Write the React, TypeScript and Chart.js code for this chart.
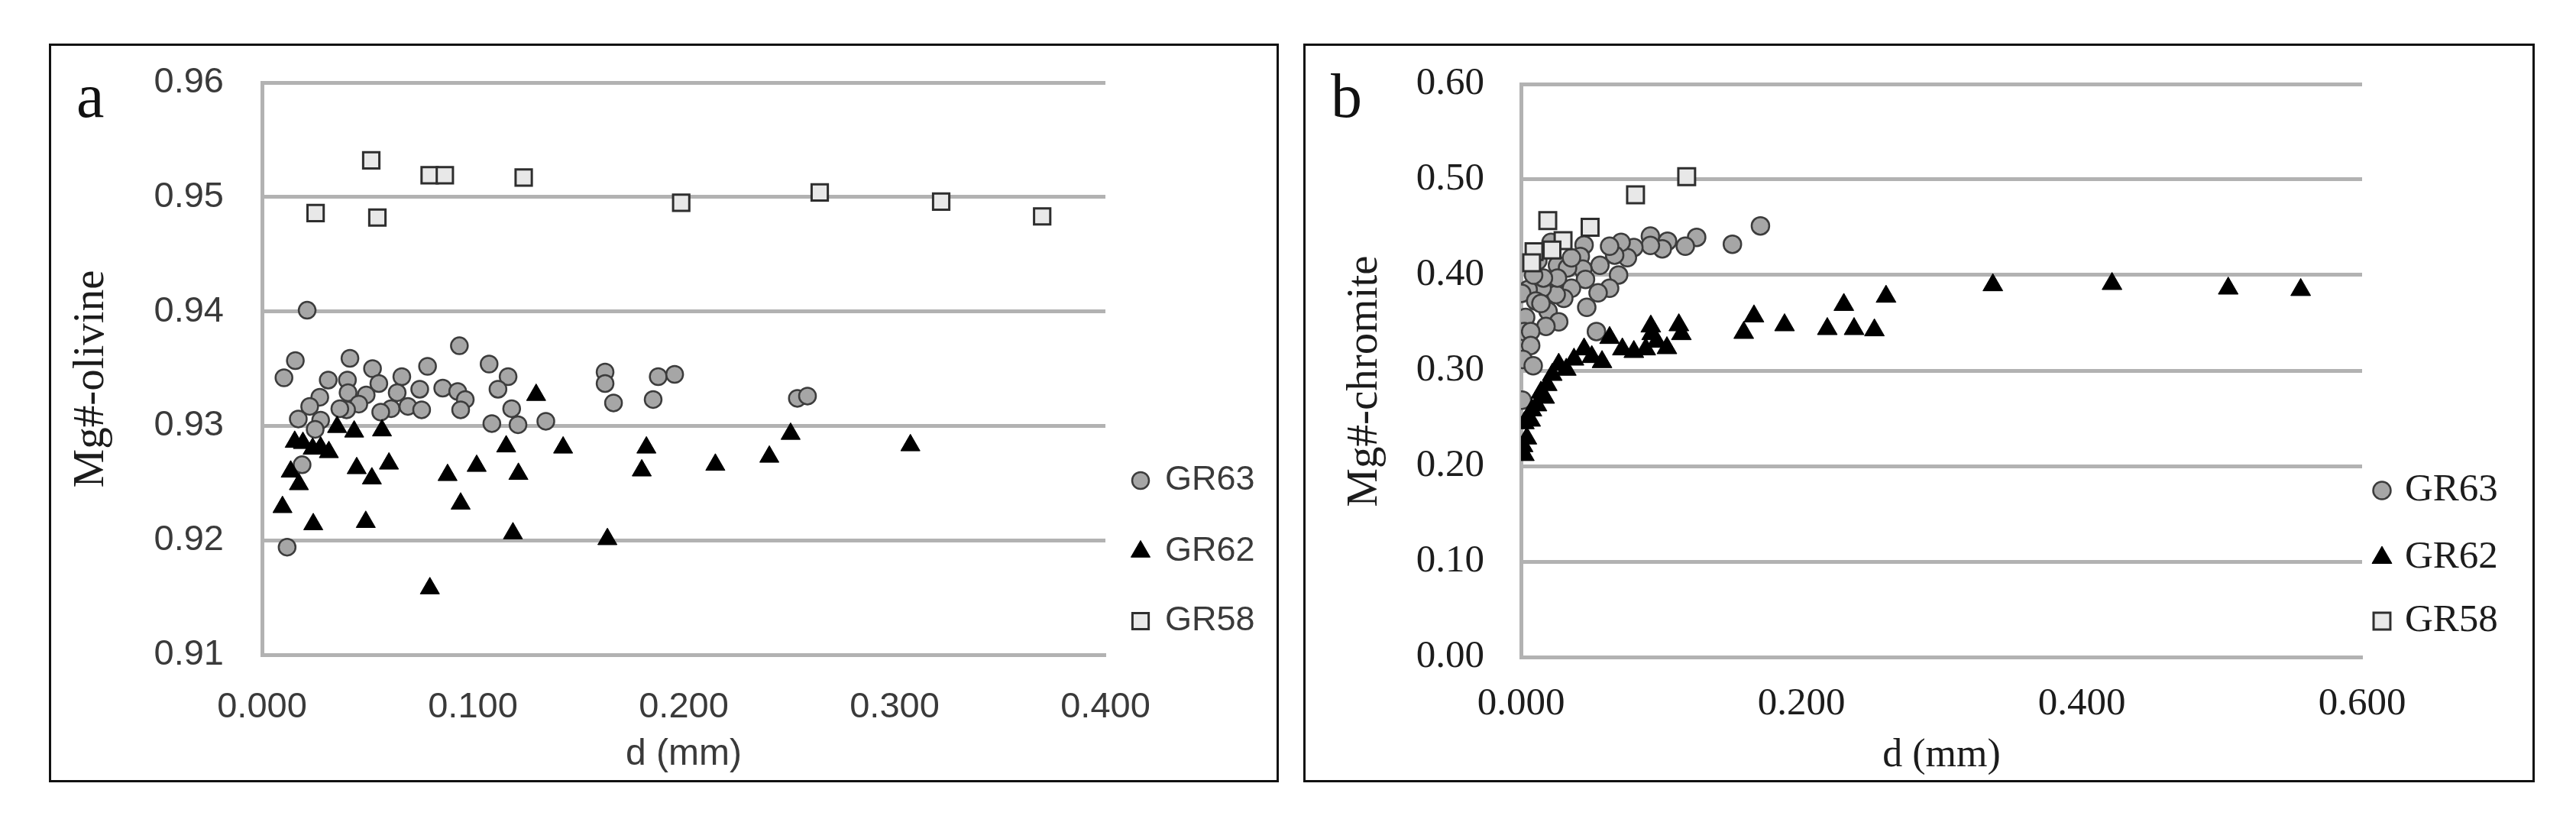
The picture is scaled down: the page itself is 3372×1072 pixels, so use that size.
import React, { useEffect, useRef } from "react";
import { Chart, registerables } from "chart.js";
import { drawPoint } from "chart.js/helpers";

Chart.register(...registerables);

// ---------------- data (d in mm, Mg#) ----------------
const SERIES_NAMES = ["GR63", "GR62", "GR58"];

const OLIVINE_GR63: [number, number][] = [
  [0.0214, 0.9401], [0.0936, 0.937], [0.0158, 0.9357], [0.0417, 0.9359], [0.0104, 0.9342],
  [0.0314, 0.934], [0.0524, 0.935], [0.0785, 0.9352], [0.1077, 0.9354], [0.1167, 0.9343],
  [0.0405, 0.934], [0.0554, 0.9337], [0.0663, 0.9343], [0.0748, 0.9332], [0.0857, 0.9333],
  [0.0928, 0.933], [0.0964, 0.9323], [0.1119, 0.9332], [0.0274, 0.9325], [0.0226, 0.9317],
  [0.0494, 0.9327], [0.0641, 0.9329], [0.0408, 0.9329], [0.0459, 0.9319], [0.0401, 0.9314],
  [0.0369, 0.9315], [0.0612, 0.9315], [0.0692, 0.9317], [0.0757, 0.9314], [0.0563, 0.9312],
  [0.0942, 0.9314], [0.1184, 0.9315], [0.0172, 0.9306], [0.0278, 0.9305], [0.0252, 0.9297],
  [0.109, 0.9302], [0.1214, 0.9301], [0.1346, 0.9304], [0.019, 0.9266], [0.0119, 0.9194],
  [0.1627, 0.9347], [0.1627, 0.9337], [0.1667, 0.932], [0.1879, 0.9343], [0.1957, 0.9345],
  [0.1855, 0.9323], [0.2539, 0.9324], [0.2587, 0.9326],
];

const OLIVINE_GR62: [number, number][] = [
  [0.0097, 0.9229], [0.0243, 0.9214], [0.0492, 0.9216], [0.0796, 0.9158], [0.119, 0.9206],
  [0.13, 0.9327], [0.0155, 0.9286], [0.0194, 0.9285], [0.024, 0.928], [0.0278, 0.9281],
  [0.0317, 0.9277], [0.0356, 0.9299], [0.0437, 0.9295], [0.0569, 0.9296], [0.1158, 0.9282],
  [0.0136, 0.926], [0.0175, 0.9249], [0.0449, 0.9263], [0.0521, 0.9254], [0.0602, 0.9267],
  [0.088, 0.9257], [0.1018, 0.9265], [0.1216, 0.9258], [0.0942, 0.9232], [0.1428, 0.9281],
  [0.1823, 0.9281], [0.1801, 0.9261], [0.215, 0.9266], [0.2406, 0.9273], [0.2507, 0.9293],
  [0.3075, 0.9283], [0.1638, 0.9201],
];

const OLIVINE_GR58: [number, number][] = [
  [0.0254, 0.9486], [0.0518, 0.9532], [0.0547, 0.9482], [0.0795, 0.9519], [0.0867, 0.9519],
  [0.1241, 0.9517], [0.1988, 0.9495], [0.2645, 0.9504], [0.3221, 0.9496], [0.37, 0.9483],
];

const CHROMITE_GR63: [number, number][] = [
  [0.1708, 0.4515], [0.1508, 0.4323], [0.1253, 0.4395], [0.1172, 0.4302], [0.1045, 0.4355],
  [0.1008, 0.4275], [0.0923, 0.4408], [0.0923, 0.431], [0.0805, 0.4289], [0.0759, 0.4182],
  [0.0714, 0.4342], [0.0668, 0.4209], [0.0632, 0.4302], [0.0696, 0.4001], [0.0632, 0.3862],
  [0.055, 0.3814], [0.0563, 0.4102], [0.045, 0.4315], [0.0423, 0.4195], [0.0441, 0.4062],
  [0.046, 0.3955], [0.0469, 0.3662], [0.0538, 0.3409], [0.036, 0.3862], [0.0305, 0.3756],
  [0.0251, 0.3796], [0.0151, 0.3862], [0.0051, 0.3849], [0.0005, 0.3809], [0.0105, 0.3729],
  [0.0193, 0.3622], [0.0269, 0.3511], [0.0178, 0.3463], [0.0033, 0.3556], [0.0024, 0.3409],
  [0.0069, 0.3409], [0.0069, 0.3263], [0.0015, 0.3116], [0.0087, 0.305], [0.0009, 0.269],
  [0.026, 0.4102], [0.0214, 0.4342], [0.0332, 0.4075], [0.026, 0.3969], [0.016, 0.3969],
  [0.0142, 0.3702], [0.036, 0.418], [0.009, 0.4], [0.012, 0.415],
];

const CHROMITE_GR62: [number, number][] = [
  [0.0015, 0.221], [0.0024, 0.2117], [0.0042, 0.229], [0.0024, 0.245], [0.0069, 0.2477],
  [0.0078, 0.2584], [0.0114, 0.2637], [0.0142, 0.277], [0.0169, 0.2717], [0.0187, 0.285],
  [0.0223, 0.2956], [0.0269, 0.3063], [0.0323, 0.301], [0.0378, 0.3116], [0.045, 0.3223],
  [0.0505, 0.3143], [0.0578, 0.309], [0.0632, 0.3343], [0.0723, 0.3223], [0.0805, 0.3196],
  [0.089, 0.3223], [0.0968, 0.3303], [0.1041, 0.3236], [0.0932, 0.3383], [0.0926, 0.3463],
  [0.1126, 0.3476], [0.1144, 0.3383], [0.1589, 0.3396], [0.1662, 0.3569], [0.188, 0.3476],
  [0.2185, 0.3436], [0.2303, 0.3689], [0.2376, 0.3436], [0.2521, 0.3423], [0.2604, 0.3775],
  [0.3366, 0.3895], [0.4216, 0.3908], [0.5045, 0.386], [0.5562, 0.3845],
];

const CHROMITE_GR58: [number, number][] = [
  [0.0191, 0.457], [0.0493, 0.45], [0.0817, 0.484], [0.1182, 0.503], [0.03, 0.436],
  [0.0221, 0.4262], [0.0093, 0.4245], [0.0076, 0.4128],
];

const OLIVINE_X_TICKS = [0, 0.1, 0.2, 0.3, 0.4];
const OLIVINE_X_LABELS = ["0.000", "0.100", "0.200", "0.300", "0.400"];
const OLIVINE_Y_TICKS = [0.91, 0.92, 0.93, 0.94, 0.95, 0.96];
const OLIVINE_Y_LABELS = ["0.91", "0.92", "0.93", "0.94", "0.95", "0.96"];

const CHROMITE_X_TICKS = [0, 0.2, 0.4, 0.6];
const CHROMITE_X_LABELS = ["0.000", "0.200", "0.400", "0.600"];
const CHROMITE_Y_TICKS = [0, 0.1, 0.2, 0.3, 0.4, 0.5, 0.6];
const CHROMITE_Y_LABELS = ["0.00", "0.10", "0.20", "0.30", "0.40", "0.50", "0.60"];

// ---------------- styling ----------------
const GRID = "#b2b2b2";
const SANS = '"Liberation Sans", Arial, sans-serif';
const SERIF = '"Liberation Serif", "Times New Roman", serif';

type Panel = {
  letter: string;
  yTitle: string;
  xTitle: string;
  series: [number, number][][];
  xTicks: number[];
  xLabels: string[];
  yTicks: number[];
  yLabels: string[];
  xMax: number;
  yMin: number;
  yMax: number;
  left: number;
  width: number;
  padding: { left: number; top: number; right: number; bottom: number };
  yAxisWidth: number;
  xAxisHeight: number;
  yTickPad: number;
  xTickPad: number;
  tickFont: string;
  tickSize: number;
  xTitleFont: string;
  xTitleSize: number;
  textColor: string;
  legendFont: string;
  legendSize: number;
  legendMarkerX: number;
  legendTextX: number;
  legendRows: number[];
  letterX: number;
  letterY: number;
  yTitleX: number;
  yTitleY: number;
  radii: number[];
};

const MARKERS = [
  { pointStyle: "circle", bg: "#a6a6a6", border: "#3c3c3c", bw: 2.5 },
  { pointStyle: "triangle", bg: "#000000", border: "#000000", bw: 1 },
  { pointStyle: "rect", bg: "#e8e8e8", border: "#2e2e2e", bw: 3 },
];

const PANEL_A: Panel = {
  letter: "a",
  yTitle: "Mg#-olivine",
  xTitle: "d (mm)",
  series: [OLIVINE_GR63, OLIVINE_GR62, OLIVINE_GR58],
  xTicks: OLIVINE_X_TICKS,
  xLabels: OLIVINE_X_LABELS,
  yTicks: OLIVINE_Y_TICKS,
  yLabels: OLIVINE_Y_LABELS,
  xMax: 0.4,
  yMin: 0.91,
  yMax: 0.96,
  left: 0,
  width: 1690,
  padding: { left: 86, top: 108, right: 243, bottom: 55 },
  yAxisWidth: 257,
  xAxisHeight: 160,
  yTickPad: 50,
  xTickPad: 41,
  tickFont: SANS,
  tickSize: 47,
  xTitleFont: SANS,
  xTitleSize: 48,
  textColor: "#3a3a3a",
  legendFont: SANS,
  legendSize: 45,
  legendMarkerX: 1493,
  legendTextX: 1525,
  legendRows: [629, 722, 813],
  letterX: 100,
  letterY: 153,
  yTitleX: 120,
  yTitleY: 496,
  radii: [11, 14.5, 15],
};

const PANEL_B: Panel = {
  letter: "b",
  yTitle: "Mg#-chromite",
  xTitle: "d (mm)",
  series: [CHROMITE_GR63, CHROMITE_GR62, CHROMITE_GR58],
  xTicks: CHROMITE_X_TICKS,
  xLabels: CHROMITE_X_LABELS,
  yTicks: CHROMITE_Y_TICKS,
  yLabels: CHROMITE_Y_LABELS,
  xMax: 0.6,
  yMin: 0,
  yMax: 0.6,
  left: 1690,
  width: 1682,
  padding: { left: 63, top: 110, right: 280, bottom: 51 },
  yAxisWidth: 238,
  xAxisHeight: 161,
  yTickPad: 48,
  xTickPad: 31,
  tickFont: SERIF,
  tickSize: 51,
  xTitleFont: SERIF,
  xTitleSize: 52,
  textColor: "#1c1c1c",
  legendFont: SERIF,
  legendSize: 51,
  legendMarkerX: 1428,
  legendTextX: 1458,
  legendRows: [642, 730, 813],
  letterX: 52,
  letterY: 153,
  yTitleX: 97,
  yTitleY: 499,
  radii: [11.5, 15, 15.5],
};

function ScatterPanel({ p }: { p: Panel }) {
  const ref = useRef<HTMLCanvasElement | null>(null);

  useEffect(() => {
    if (!ref.current) return;

    const overlay = {
      id: "panelOverlay",
      afterDraw(chart: any) {
        const ctx = chart.ctx as CanvasRenderingContext2D;
        ctx.save();
        // panel letter
        ctx.fillStyle = "#111";
        ctx.font = `82px ${SERIF}`;
        ctx.textAlign = "left";
        ctx.textBaseline = "alphabetic";
        ctx.fillText(p.letter, p.letterX, p.letterY);

        // y-axis title (rotated)
        ctx.save();
        ctx.translate(p.yTitleX, p.yTitleY);
        ctx.rotate(-Math.PI / 2);
        ctx.font = `57px ${SERIF}`;
        ctx.fillStyle = "#1c1c1c";
        ctx.textAlign = "center";
        ctx.textBaseline = "middle";
        ctx.fillText(p.yTitle, 0, 0);
        ctx.restore();

        // legend
        chart.data.datasets.forEach((ds: any, i: number) => {
          const y = p.legendRows[i];
          ctx.fillStyle = ds.backgroundColor;
          ctx.strokeStyle = ds.borderColor;
          ctx.lineWidth = ds.pointBorderWidth;
          drawPoint(
            ctx,
            { pointStyle: ds.pointStyle, radius: ds.pointRadius, borderWidth: ds.pointBorderWidth, rotation: 0 } as any,
            p.legendMarkerX,
            y
          );
          ctx.fillStyle = p.textColor;
          ctx.font = `${p.legendSize}px ${p.legendFont}`;
          ctx.textBaseline = "middle";
          ctx.textAlign = "left";
          ctx.fillText(ds.label, p.legendTextX, y);
        });
        ctx.restore();
      },
    };

    const datasets = p.series.map((s, i) => ({
      label: SERIES_NAMES[i],
      data: s.map(([x, y]) => ({ x, y })),
      pointStyle: MARKERS[i].pointStyle,
      pointRadius: p.radii[i],
      backgroundColor: MARKERS[i].bg,
      borderColor: MARKERS[i].border,
      pointBorderWidth: MARKERS[i].bw,
      borderWidth: MARKERS[i].bw,
      showLine: false,
      order: 2 - i,
    }));

    const chart = new Chart(ref.current, {
      type: "scatter",
      data: { datasets: datasets as any },
      options: {
        responsive: false,
        animation: false,
        devicePixelRatio: 1,
        events: [],
        layout: { padding: p.padding },
        plugins: {
          legend: { display: false },
          tooltip: { enabled: false },
        },
        scales: {
          x: {
            type: "linear",
            min: 0,
            max: p.xMax,
            afterBuildTicks: (s: any) => {
              s.ticks = p.xTicks.map((v) => ({ value: v }));
            },
            afterFit: (s: any) => {
              s.height = p.xAxisHeight;
            },
            ticks: {
              autoSkip: false,
              maxRotation: 0,
              padding: p.xTickPad,
              color: p.textColor,
              font: { family: p.tickFont, size: p.tickSize },
              callback: (_v: any, i: number) => p.xLabels[i],
            },
            grid: { display: true, drawOnChartArea: false, drawTicks: false },
            border: { display: true, color: GRID, width: 5 },
            title: {
              display: true,
              text: p.xTitle,
              color: p.textColor,
              padding: 0,
              font: { family: p.xTitleFont, size: p.xTitleSize },
            },
          },
          y: {
            type: "linear",
            min: p.yMin,
            max: p.yMax,
            afterBuildTicks: (s: any) => {
              s.ticks = p.yTicks.map((v) => ({ value: v }));
            },
            afterFit: (s: any) => {
              s.width = p.yAxisWidth;
            },
            ticks: {
              padding: p.yTickPad,
              color: p.textColor,
              font: { family: p.tickFont, size: p.tickSize },
              callback: (_v: any, i: number) => p.yLabels[i],
            },
            grid: { color: GRID, lineWidth: 5, drawTicks: false },
            border: { display: true, color: GRID, width: 5 },
            title: { display: false, text: p.yTitle },
          },
        },
      },
      plugins: [overlay],
    } as any);

    return () => chart.destroy();
  }, [p]);

  return (
    <canvas
      ref={ref}
      width={p.width}
      height={1072}
      style={{ position: "absolute", left: p.left, top: 0, width: p.width, height: 1072 }}
    />
  );
}

export default function App() {
  const frame = (left: number, width: number): React.CSSProperties => ({
    position: "absolute",
    left,
    top: 57,
    width,
    height: 967,
    border: "3px solid #111",
    boxSizing: "border-box",
    pointerEvents: "none",
  });
  return (
    <div
      style={{
        position: "absolute",
        left: 0,
        top: 0,
        width: 3372,
        height: 1072,
        background: "#ffffff",
        overflow: "hidden",
      }}
    >
      <ScatterPanel p={PANEL_A} />
      <ScatterPanel p={PANEL_B} />
      <div style={frame(64, 1610)} />
      <div style={frame(1706, 1612)} />
    </div>
  );
}
